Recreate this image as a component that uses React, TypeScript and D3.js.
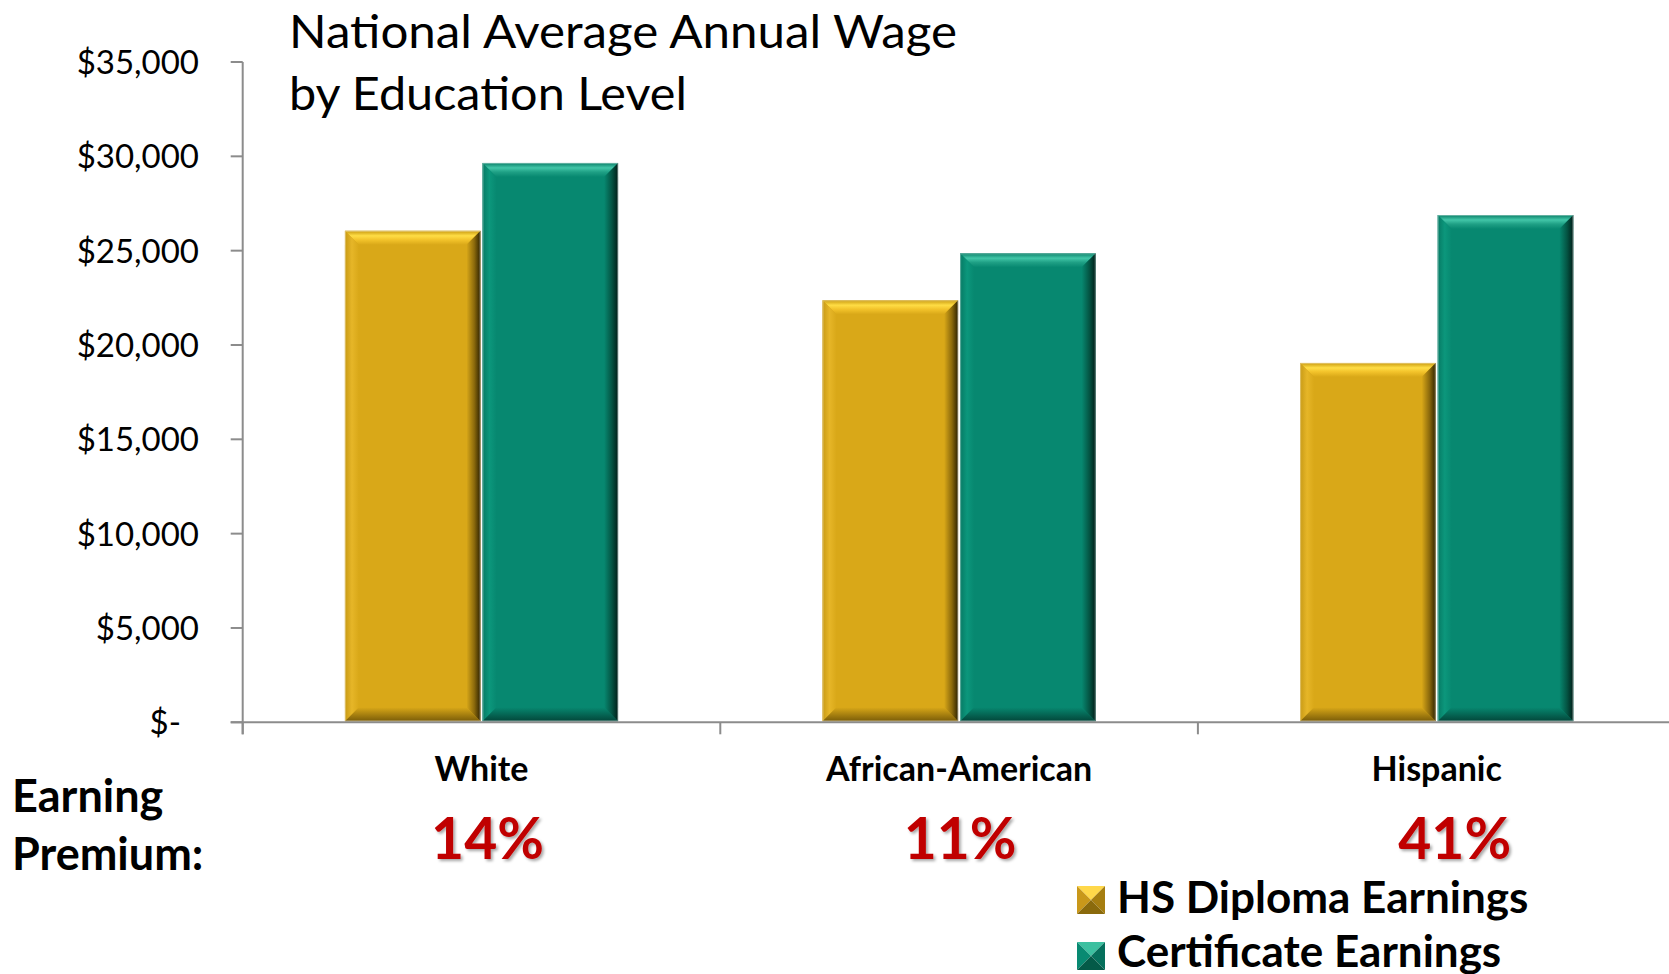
import React from "react";
import * as d3 from "d3";

const categories = ["White", "African-American", "Hispanic"];
const seriesNames = ["HS Diploma Earnings", "Certificate Earnings"];
const hsDiploma = [26050, 22370, 19050];
const certificate = [29650, 24860, 26890];
const premiums = ["14%", "11%", "41%"];
const yTicks = [0, 5000, 10000, 15000, 20000, 25000, 30000, 35000];
const titleLines = ["National Average Annual Wage", "by Education Level"];
const premiumLabel = ["Earning", "Premium:"];

const W = 1669;
const H = 974;
const PLOT = { left: 242.7, right: 1675.5, top: 62, bottom: 722.3 };
const FONT = "Lato, 'Open Sans', sans-serif";
const BEVEL = 14;
const premiumOffsets = [6, 1, 18];
const titleWidths = [668, 398];

const palettes = [
  {
    key: "hs",
    base: "#D9A818",
    top: ["#C99A10", "#FFDD45", "#F2C22A", "#D9A818"],
    right: ["#D9A818", "#8C6A0C", "#2E2200"],
    bottom: ["#D9A818", "#7A5C08"],
    left: ["#C89A15", "#E6B628", "#D9A818"],
    legend: ["#FFD84A", "#C9981A", "#A67E10", "#8A6A0C"],
  },
  {
    key: "cert",
    base: "#078870",
    top: ["#0A7F68", "#42C6A8", "#1FA085", "#078870"],
    right: ["#078870", "#045443", "#001E18"],
    bottom: ["#078870", "#03463A"],
    left: ["#067A64", "#0C977C", "#078870"],
    legend: ["#3CC0A0", "#088A72", "#06705C", "#045A48"],
  },
];

function fmt(v: number) {
  return v === 0 ? "$-" : "$" + d3.format(",")(v);
}

function Bar({ x, y, w, h, p }: { x: number; y: number; w: number; h: number; p: (typeof palettes)[0] }) {
  const b = Math.min(BEVEL, h / 2, w / 2);
  const pts = (arr: number[][]) => arr.map((a) => a.join(",")).join(" ");
  return (
    <g>
      <rect x={x} y={y} width={w} height={h} fill={p.base} />
      <polygon
        points={pts([[x, y], [x + w, y], [x + w - b, y + b], [x + b, y + b]])}
        fill={`url(#${p.key}-top)`}
      />
      <polygon
        points={pts([[x, y], [x, y + h], [x + b, y + h - b], [x + b, y + b]])}
        fill={`url(#${p.key}-left)`}
      />
      <polygon
        points={pts([[x, y + h], [x + w, y + h], [x + w - b, y + h - b], [x + b, y + h - b]])}
        fill={`url(#${p.key}-bottom)`}
      />
      <polygon
        points={pts([[x + w, y], [x + w, y + h], [x + w - b, y + h - b], [x + w - b, y + b]])}
        fill={`url(#${p.key}-right)`}
      />
      <rect x={x + 0.5} y={y + 0.5} width={w - 1} height={h - 1} fill="none" stroke="#ffffff" strokeOpacity={0.35} strokeWidth={1} />
    </g>
  );
}

function LegendSwatch({ x, y, s, p }: { x: number; y: number; s: number; p: (typeof palettes)[0] }) {
  const c = [x + s / 2, y + s / 2];
  const pts = (arr: number[][]) => arr.map((a) => a.join(",")).join(" ");
  return (
    <g>
      <polygon points={pts([[x, y], [x + s, y], c])} fill={p.legend[0]} />
      <polygon points={pts([[x, y], [x, y + s], c])} fill={p.legend[1]} />
      <polygon points={pts([[x + s, y], [x + s, y + s], c])} fill={p.legend[2]} />
      <polygon points={pts([[x, y + s], [x + s, y + s], c])} fill={p.legend[3]} />
    </g>
  );
}

export default function App() {
  const y = d3.scaleLinear().domain([0, 35000]).range([PLOT.bottom, PLOT.top]);
  const x0 = d3
    .scaleBand<string>()
    .domain(categories)
    .range([PLOT.left, PLOT.right])
    .paddingInner(0.428)
    .paddingOuter(0.214);
  const x1 = d3.scaleBand<string>().domain(seriesNames).range([0, x0.bandwidth()]).padding(0);
  const step = x0.step();
  const series = [hsDiploma, certificate];
  const catTicks = d3.range(categories.length + 1).map((i) => PLOT.left + i * step);

  return (
    <svg
      width={W}
      height={H}
      style={{ position: "absolute", left: 0, top: 0, display: "block", background: "#fff", overflow: "hidden" }}
    >
      <defs>
        {palettes.map((p) => (
          <React.Fragment key={p.key}>
            <linearGradient id={`${p.key}-top`} x1="0" y1="0" x2="0" y2="1">
              <stop offset="0%" stopColor={p.top[0]} />
              <stop offset="35%" stopColor={p.top[1]} />
              <stop offset="65%" stopColor={p.top[2]} />
              <stop offset="100%" stopColor={p.top[3]} />
            </linearGradient>
            <linearGradient id={`${p.key}-right`} x1="0" y1="0" x2="1" y2="0">
              <stop offset="0%" stopColor={p.right[0]} />
              <stop offset="55%" stopColor={p.right[1]} />
              <stop offset="100%" stopColor={p.right[2]} />
            </linearGradient>
            <linearGradient id={`${p.key}-bottom`} x1="0" y1="0" x2="0" y2="1">
              <stop offset="0%" stopColor={p.bottom[0]} />
              <stop offset="100%" stopColor={p.bottom[1]} />
            </linearGradient>
            <linearGradient id={`${p.key}-left`} x1="0" y1="0" x2="1" y2="0">
              <stop offset="0%" stopColor={p.left[0]} />
              <stop offset="50%" stopColor={p.left[1]} />
              <stop offset="100%" stopColor={p.left[2]} />
            </linearGradient>
          </React.Fragment>
        ))}
        <filter id="shadow" x="-20%" y="-20%" width="140%" height="140%">
          <feDropShadow dx="2" dy="2" stdDeviation="1.5" floodColor="#000" floodOpacity="0.35" />
        </filter>
      </defs>

      {/* Title */}
      {titleLines.map((t, i) => (
        <text
          key={t}
          x={289}
          y={48 + i * 62}
          fontFamily={FONT}
          fontSize={46}
          fill="#000"
          textLength={titleWidths[i]}
          lengthAdjust="spacingAndGlyphs"
        >
          {t}
        </text>
      ))}

      {/* Y axis labels */}
      {yTicks.map((t) => (
        <text
          key={t}
          x={t === 0 ? 181 : 199}
          y={y(t) + 12}
          textAnchor="end"
          fontFamily={FONT}
          fontSize={33}
          fill="#000"
        >
          {fmt(t)}
        </text>
      ))}

      {/* Bars */}
      {categories.map((c, ci) =>
        series.map((s, si) => {
          const bx = (x0(c) as number) + (x1(seriesNames[si]) as number);
          const by = y(s[ci]);
          return (
            <Bar
              key={c + si}
              x={bx + (si === 1 ? 1 : 0)}
              y={by}
              w={x1.bandwidth() - 1}
              h={PLOT.bottom - 1 - by}
              p={palettes[si]}
            />
          );
        })
      )}

      {/* Axes */}
      <g stroke="#8C8C8C" strokeWidth={2} fill="none">
        <line x1={PLOT.left} y1={PLOT.top} x2={PLOT.left} y2={PLOT.bottom + 12} />
        <line x1={PLOT.left - 12} y1={PLOT.bottom} x2={PLOT.right} y2={PLOT.bottom} />
        {yTicks.map((t) => (
          <line key={t} x1={PLOT.left - 12} y1={y(t)} x2={PLOT.left} y2={y(t)} />
        ))}
        {catTicks.map((tx, i) => (
          <line key={i} x1={tx} y1={PLOT.bottom} x2={tx} y2={PLOT.bottom + 12} />
        ))}
      </g>

      {/* Category labels */}
      {categories.map((c) => (
        <text
          key={c}
          x={(x0(c) as number) + x0.bandwidth() / 2}
          y={781}
          textAnchor="middle"
          fontFamily={FONT}
          fontWeight={700}
          fontSize={34}
          fill="#000"
        >
          {c}
        </text>
      ))}

      {/* Earning premium */}
      {premiumLabel.map((t, i) => (
        <text key={t} x={12} y={812 + i * 58} fontFamily={FONT} fontWeight={700} fontSize={45} fill="#000">
          {t}
        </text>
      ))}
      {premiums.map((t, i) => (
        <text
          key={t}
          x={(x0(categories[i]) as number) + x0.bandwidth() / 2 + premiumOffsets[i]}
          y={859}
          textAnchor="middle"
          fontFamily={FONT}
          fontWeight={700}
          fontSize={57}
          fill="#C00000"
          filter="url(#shadow)"
        >
          {t}
        </text>
      ))}

      {/* Legend */}
      {seriesNames.map((n, i) => (
        <g key={n}>
          <LegendSwatch x={1077} y={886 + i * 56} s={28} p={palettes[i]} />
          <text x={1117} y={913 + i * 54} fontFamily={FONT} fontWeight={700} fontSize={44} fill="#000">
            {n}
          </text>
        </g>
      ))}
    </svg>
  );
}
